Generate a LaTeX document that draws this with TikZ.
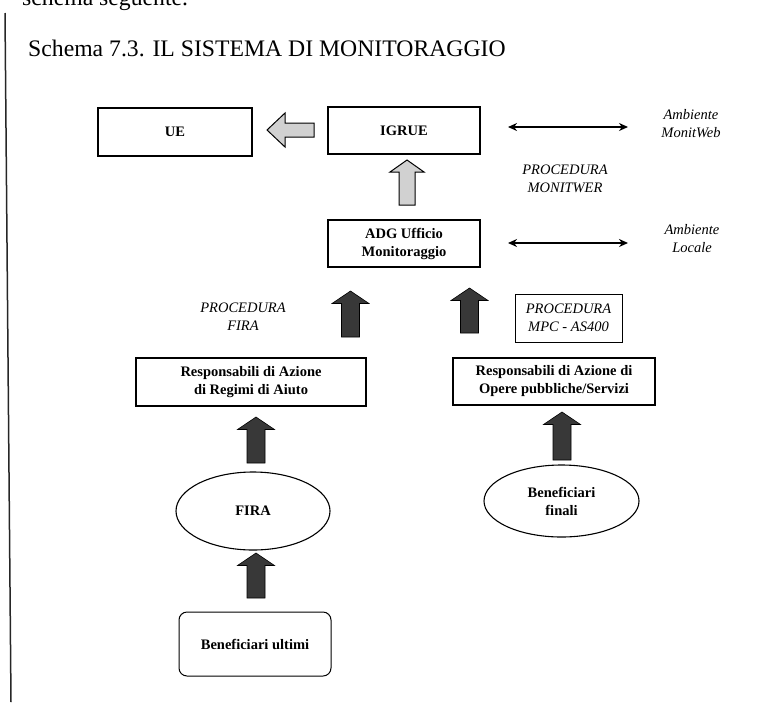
\documentclass[tikz,border=0pt]{standalone}
\usepackage{fontspec}
\setmainfont{Liberation Serif}
\usetikzlibrary{arrows.meta,shapes.geometric}
\tikzset{
  box/.style={draw, line width=1.1pt, align=center, inner sep=0pt,
    font=\bfseries\fontsize{14.5}{18}\selectfont},
  lab/.style={align=center, inner sep=0pt, font=\itshape\fontsize{14.5}{18}\selectfont},
  oval/.style={draw, ellipse, line width=1.1pt, align=center, inner sep=0pt,
    font=\bfseries\fontsize{14.5}{18}\selectfont},
  darr/.style={fill=black!78, draw=black, line width=0.6pt},
  larr/.style={fill=black!18, draw=black, line width=1pt},
  dbl/.style={{Stealth[length=9pt,width=8pt]}-{Stealth[length=9pt,width=8pt]}, line width=1.6pt},
}
% block arrow pointing up: #1 centre x, #2 tip y, #3 tail y, #4 head half width, #5 shaft half width, #6 head height, #7 style
\newcommand\blkup[7]{%
  \path[#7] ({#1},{#2}) -- ({#1+#4},{#2+#6}) -- ({#1+#5},{#2+#6}) -- ({#1+#5},{#3})
    -- ({#1-#5},{#3}) -- ({#1-#5},{#2+#6}) -- ({#1-#4},{#2+#6}) -- cycle;}
\begin{document}
\begin{tikzpicture}[x=1pt,y=-1pt]
\useasboundingbox (0,0) rectangle (784,702);
\clip (0,0) rectangle (784,702);

% page remnants
\node[anchor=base west, inner sep=0pt, font=\fontsize{23.7}{28}\selectfont] (prev) at (22,5) {schema seguente.};
\coordinate (ltop) at (5,13);
\coordinate (lbot) at (11,702);
\draw[line width=1.5pt, black!85] (ltop) -- (lbot);

% title
\node[anchor=base west, inner sep=0pt, font=\fontsize{23.7}{28}\selectfont] (title) at (28,56) {Schema 7.3. IL SISTEMA DI MONITORAGGIO};

% boxes
\node[box, minimum width=154pt, minimum height=48pt] (ue) at (175,132) {UE};
\node[box, minimum width=152pt, minimum height=47pt] (igrue) at (404,130.5) {IGRUE};
\node[box, minimum width=152pt, minimum height=47pt] (adg) at (404,243.5) {ADG Ufficio\\Monitoraggio};
\node[box, line width=1pt, minimum width=107pt, minimum height=48pt,
  font=\itshape\fontsize{14.5}{18}\selectfont] (mpc) at (568.5,318) {PROCEDURA\\MPC - AS400};
\node[box, minimum width=230pt, minimum height=48pt] (respA) at (251,382) {Responsabili di Azione\\di Regimi di Aiuto};
\node[box, minimum width=202pt, minimum height=47pt] (respB) at (554,381.5) {Responsabili di Azione di\\Opere pubbliche/Servizi};
\node[oval, minimum width=154pt, minimum height=78pt] (fira) at (253,511) {FIRA};
\node[oval, minimum width=155pt, minimum height=72pt] (benf) at (561.5,501) {Beneficiari\\finali};
\node[box, line width=1pt, rounded corners=8pt, minimum width=152pt, minimum height=64pt] (benu) at (255,644) {Beneficiari ultimi};

% italic labels
\node[lab] (procfira) at (243,317) {PROCEDURA\\FIRA};
\node[lab] (procmw) at (565,179) {PROCEDURA\\MONITWER};
\node[lab] (ambmw) at (691,124) {Ambiente\\MonitWeb};
\node[lab] (amblo) at (692,239) {Ambiente\\Locale};

% double arrows
\coordinate (d1a) at (508,127);
\coordinate (d1b) at (628,127);
\coordinate (d2a) at (508,243);
\coordinate (d2b) at (628,243);
\draw[dbl] (d1a) -- (d1b);
\draw[dbl] (d2a) -- (d2b);

% hollow block arrows
\path[larr] (267,130) -- (285,113) -- (285,123) -- (314,123) -- (314,137) -- (285,137) -- (285,147) -- cycle;
\blkup{407}{160}{205}{17}{8}{12}{larr}

% dark block arrows
\blkup{350.5}{291}{337}{18.5}{9}{12.5}{darr}
\blkup{469.5}{288}{333}{18.5}{9}{12.5}{darr}
\blkup{256}{417}{463}{18.5}{9}{12.5}{darr}
\blkup{562}{412}{460}{18.5}{9}{12.5}{darr}
\blkup{256}{553}{598}{18.5}{9}{12.5}{darr}
\end{tikzpicture}
\end{document}
